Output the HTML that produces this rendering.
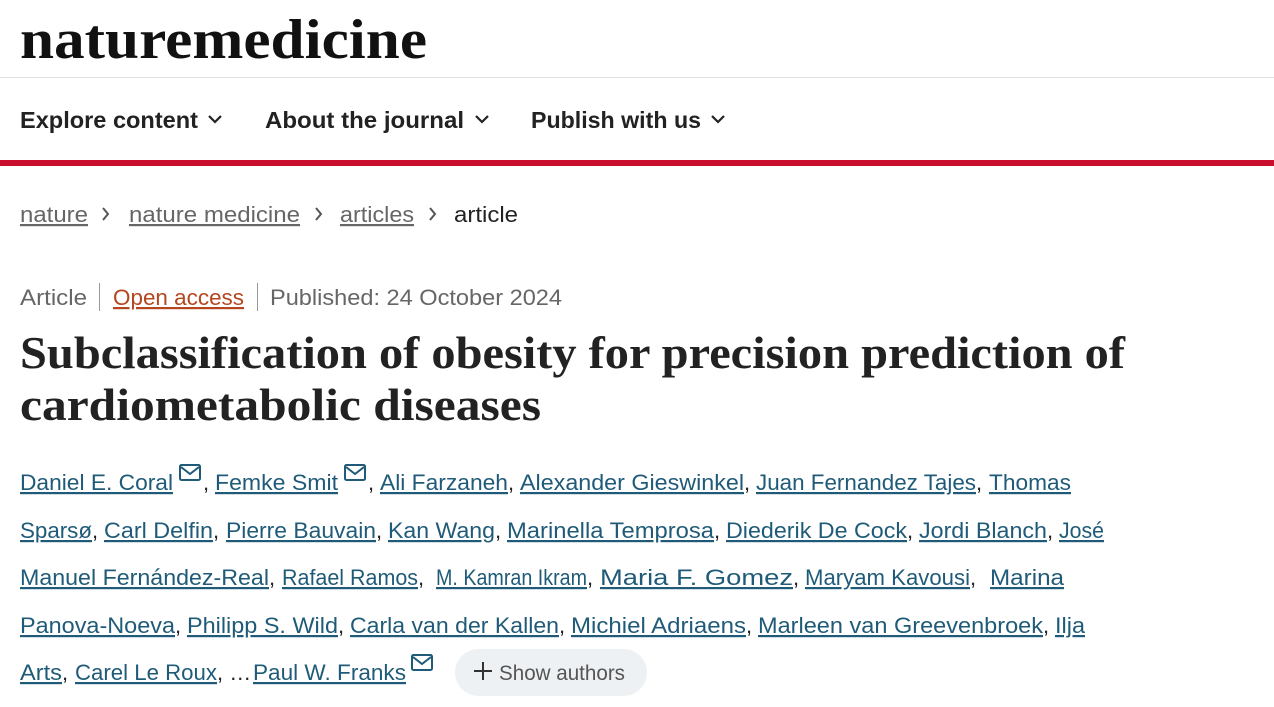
<!DOCTYPE html>
<html><head><meta charset="utf-8"><style>
html,body{margin:0;padding:0;background:#fff;width:1274px;height:707px;overflow:hidden}
svg{display:block}
.s{font-family:"Liberation Sans",sans-serif}
.a{fill:#1f5b78;text-decoration:underline}
</style></head><body>
<svg width="1274" height="707" xmlns="http://www.w3.org/2000/svg">
<text x="20" y="58" font-family="Liberation Serif,serif" font-weight="bold" font-size="56" fill="#111" textLength="407" lengthAdjust="spacingAndGlyphs">naturemedicine</text>
<rect x="0" y="77" width="1274" height="1" fill="#e2e2e2"/>
<g class="s" font-weight="bold" font-size="23" fill="#222">
<text x="20" y="128" textLength="178" lengthAdjust="spacingAndGlyphs">Explore content</text>
<text x="265" y="128" textLength="199" lengthAdjust="spacingAndGlyphs">About the journal</text>
<text x="531" y="128" textLength="170" lengthAdjust="spacingAndGlyphs">Publish with us</text>
</g>
<g fill="none" stroke="#222" stroke-width="2.2"><path d="M209 116l6 6 6-6"/><path d="M476 116l6 6 6-6"/><path d="M712 116l6 6 6-6"/></g>
<rect x="0" y="160" width="1274" height="6" fill="#c8102e"/>
<g class="s" font-size="22">
<text x="20" y="222" fill="#666" text-decoration="underline" textLength="68" lengthAdjust="spacingAndGlyphs">nature</text>
<text x="129" y="222" fill="#666" text-decoration="underline" textLength="171" lengthAdjust="spacingAndGlyphs">nature medicine</text>
<text x="340" y="222" fill="#666" text-decoration="underline" textLength="74" lengthAdjust="spacingAndGlyphs">articles</text>
<text x="454" y="222" fill="#222" textLength="64" lengthAdjust="spacingAndGlyphs">article</text>
</g>
<g fill="none" stroke="#555" stroke-width="2"><path d="M103 208l5 6-5 6"/><path d="M316 208l5 6-5 6"/><path d="M430 208l5 6-5 6"/></g>
<g class="s" font-size="22">
<text x="20" y="305" fill="#666" textLength="67" lengthAdjust="spacingAndGlyphs">Article</text>
<rect x="99" y="283" width="1" height="28" fill="#999"/>
<text x="113" y="305" fill="#b5461e" text-decoration="underline" textLength="131" lengthAdjust="spacingAndGlyphs">Open access</text>
<rect x="257" y="283" width="1" height="28" fill="#999"/>
<text x="270" y="305" fill="#666" textLength="292" lengthAdjust="spacingAndGlyphs">Published: 24 October 2024</text>
</g>
<g font-family="Liberation Serif,serif" font-weight="bold" font-size="46" fill="#222">
<text x="20" y="368" textLength="1105" lengthAdjust="spacingAndGlyphs">Subclassification of obesity for precision prediction of</text>
<text x="20" y="420" textLength="521" lengthAdjust="spacingAndGlyphs">cardiometabolic diseases</text>
</g>
<g class="s" font-size="22" fill="#222">
<text y="490"><tspan x="20" class="a" textLength="153" lengthAdjust="spacingAndGlyphs">Daniel E. Coral</tspan><tspan x="203">,</tspan><tspan x="215" class="a" textLength="123" lengthAdjust="spacingAndGlyphs">Femke Smit</tspan><tspan x="368">,</tspan><tspan x="380" class="a" textLength="128" lengthAdjust="spacingAndGlyphs">Ali Farzaneh</tspan><tspan x="508">,</tspan><tspan x="520" class="a" textLength="224" lengthAdjust="spacingAndGlyphs">Alexander Gieswinkel</tspan><tspan x="744">,</tspan><tspan x="756" class="a" textLength="220" lengthAdjust="spacingAndGlyphs">Juan Fernandez Tajes</tspan><tspan x="976">,</tspan><tspan x="989" class="a" textLength="82" lengthAdjust="spacingAndGlyphs">Thomas</tspan></text>
<text y="538"><tspan x="20" class="a" textLength="72" lengthAdjust="spacingAndGlyphs">Sparsø</tspan><tspan x="92">,</tspan><tspan x="104" class="a" textLength="109" lengthAdjust="spacingAndGlyphs">Carl Delfin</tspan><tspan x="213">,</tspan><tspan x="226" class="a" textLength="150" lengthAdjust="spacingAndGlyphs">Pierre Bauvain</tspan><tspan x="376">,</tspan><tspan x="388" class="a" textLength="107" lengthAdjust="spacingAndGlyphs">Kan Wang</tspan><tspan x="495">,</tspan><tspan x="507" class="a" textLength="207" lengthAdjust="spacingAndGlyphs">Marinella Temprosa</tspan><tspan x="714">,</tspan><tspan x="726" class="a" textLength="181" lengthAdjust="spacingAndGlyphs">Diederik De Cock</tspan><tspan x="907">,</tspan><tspan x="919" class="a" textLength="128" lengthAdjust="spacingAndGlyphs">Jordi Blanch</tspan><tspan x="1047">,</tspan><tspan x="1059" class="a" textLength="45" lengthAdjust="spacingAndGlyphs">José</tspan></text>
<text y="585"><tspan x="20" class="a" textLength="249" lengthAdjust="spacingAndGlyphs">Manuel Fernández-Real</tspan><tspan x="269">,</tspan><tspan x="282" class="a" textLength="136" lengthAdjust="spacingAndGlyphs">Rafael Ramos</tspan><tspan x="418">,</tspan><tspan x="436" class="a" textLength="151" lengthAdjust="spacingAndGlyphs">M. Kamran Ikram</tspan><tspan x="587">,</tspan><tspan x="600" class="a" textLength="193" lengthAdjust="spacingAndGlyphs">Maria F. Gomez</tspan><tspan x="793">,</tspan><tspan x="805" class="a" textLength="165" lengthAdjust="spacingAndGlyphs">Maryam Kavousi</tspan><tspan x="970">,</tspan><tspan x="990" class="a" textLength="74" lengthAdjust="spacingAndGlyphs">Marina</tspan></text>
<text y="633"><tspan x="20" class="a" textLength="155" lengthAdjust="spacingAndGlyphs">Panova-Noeva</tspan><tspan x="175">,</tspan><tspan x="187" class="a" textLength="151" lengthAdjust="spacingAndGlyphs">Philipp S. Wild</tspan><tspan x="338">,</tspan><tspan x="350" class="a" textLength="209" lengthAdjust="spacingAndGlyphs">Carla van der Kallen</tspan><tspan x="559">,</tspan><tspan x="571" class="a" textLength="175" lengthAdjust="spacingAndGlyphs">Michiel Adriaens</tspan><tspan x="746">,</tspan><tspan x="758" class="a" textLength="285" lengthAdjust="spacingAndGlyphs">Marleen van Greevenbroek</tspan><tspan x="1043">,</tspan><tspan x="1055" class="a" textLength="30" lengthAdjust="spacingAndGlyphs">Ilja</tspan></text>
<text y="680"><tspan x="20" class="a" textLength="42" lengthAdjust="spacingAndGlyphs">Arts</tspan><tspan x="62">,</tspan><tspan x="75" class="a" textLength="142" lengthAdjust="spacingAndGlyphs">Carel Le Roux</tspan><tspan x="217">, …</tspan><tspan x="253" class="a" textLength="153" lengthAdjust="spacingAndGlyphs">Paul W. Franks</tspan></text>
</g>
<g fill="none" stroke="#1f5b78" stroke-width="2">
<rect x="180" y="465" width="20" height="15" rx="1.5"/><path d="M181 467l9 7 9-7"/>
<rect x="345" y="465" width="20" height="15" rx="1.5"/><path d="M346 467l9 7 9-7"/>
<rect x="412" y="655" width="20" height="15" rx="1.5"/><path d="M413 657l9 7 9-7"/>
</g>
<rect x="455" y="649" width="192" height="47" rx="23.5" fill="#eef1f4"/>
<path d="M474 671h18M483 662v18" stroke="#333" stroke-width="2"/>
<text x="499" y="680" class="s" font-size="21" fill="#555" textLength="126" lengthAdjust="spacingAndGlyphs">Show authors</text>
</svg>
</body></html>
